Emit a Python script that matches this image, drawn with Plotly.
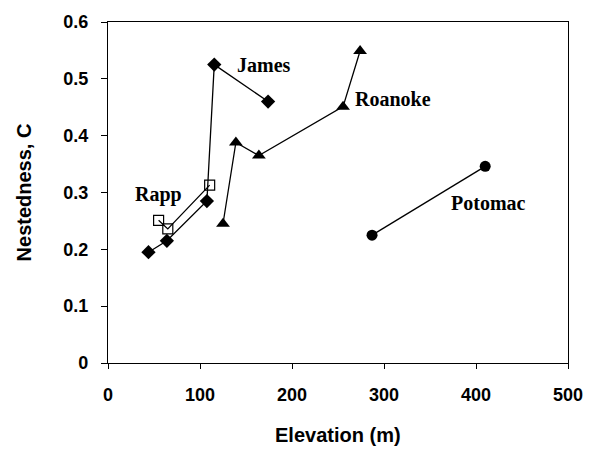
import plotly.graph_objects as go

james_x = [44, 64, 107.5, 115.5, 174]
james_y = [0.195, 0.215, 0.285, 0.525, 0.46]
rapp_x = [55, 65, 110.5]
rapp_y = [0.251, 0.236, 0.313]
roanoke_x = [125, 139, 164, 255.5, 274]
roanoke_y = [0.245, 0.388, 0.365, 0.451, 0.549]
potomac_x = [287, 410]
potomac_y = [0.225, 0.346]

label_text = ["James", "Rapp", "Roanoke", "Potomac"]
label_x = [170, 54.5, 309.5, 413.5]
label_y = [0.525, 0.296, 0.465, 0.281]

x_ticks = [0, 100, 200, 300, 400, 500]
y_ticks = [0, 0.1, 0.2, 0.3, 0.4, 0.5, 0.6]
y_tick_text = ["0", "0.1", "0.2", "0.3", "0.4", "0.5", "0.6"]

fig = go.Figure()
line = dict(color="black", width=1.3)
fig.add_trace(go.Scatter(x=james_x, y=james_y, mode="lines+markers", line=line,
                         marker=dict(symbol="diamond", size=11, color="black")))
fig.add_trace(go.Scatter(x=rapp_x, y=rapp_y, mode="lines+markers", line=line,
                         marker=dict(symbol="square-open", size=10, color="black",
                                     line=dict(width=1.2, color="black"))))
fig.add_trace(go.Scatter(x=roanoke_x, y=roanoke_y, mode="lines+markers", line=line,
                         marker=dict(symbol="triangle-up", size=12, color="black")))
fig.add_trace(go.Scatter(x=potomac_x, y=potomac_y, mode="lines+markers", line=line,
                         marker=dict(symbol="circle", size=11, color="black")))

for t, x, y in zip(label_text, label_x, label_y):
    fig.add_annotation(x=x, y=y, text=f"<b>{t}</b>", showarrow=False,
                       font=dict(family="Liberation Serif", size=20, color="black"))

fig.add_annotation(x=0.5, y=-0.211, xref="paper", yref="paper", yanchor="middle",
                   text="<b>Elevation (m)</b>", showarrow=False,
                   font=dict(family="Liberation Sans", size=20, color="black"))

fig.update_layout(
    width=595, height=453,
    margin=dict(l=108, r=25, t=16, b=90),
    plot_bgcolor="white", paper_bgcolor="white",
    showlegend=False,
    font=dict(family="Liberation Sans", size=18, color="black"),
)
fig.update_xaxes(range=[0, 500], tickvals=x_ticks, ticktext=[f"<b>{v}</b>" for v in x_ticks],
                 ticks="outside", ticklen=5, tickwidth=1.3, tickcolor="black",
                 showline=True, linecolor="black", linewidth=1.3, mirror=True,
                 showgrid=False, zeroline=False, ticklabelstandoff=10)
fig.update_yaxes(range=[0, 0.6], tickvals=y_ticks, ticktext=[f"<b>{v}</b>" for v in y_tick_text],
                 ticks="outside", ticklen=6, tickwidth=1.3, tickcolor="black",
                 showline=True, linecolor="black", linewidth=1.3, mirror=True,
                 showgrid=False, zeroline=False, ticklabelstandoff=9,
                 title=dict(text="<b>Nestedness, C</b>", font=dict(size=20), standoff=26))

fig.write_html("out.html")
